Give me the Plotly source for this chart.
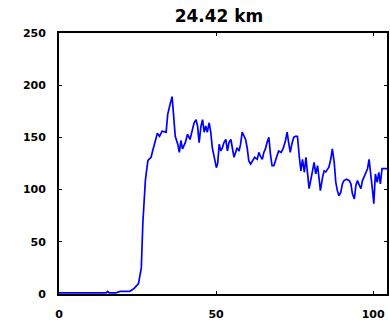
import plotly.graph_objects as go

title_text = "24.42 km"
x_vals = [0, 2, 4, 6, 8, 10, 12, 14, 15, 15.5, 16, 17, 18, 19.5, 21, 22.5, 23.3, 24, 25.3, 26.2, 26.7, 27.5,
          28.3, 29.3, 29.8, 30.7, 31.3, 32.0, 32.8, 34.1, 34.6, 35.3, 36.0, 36.4, 37.0, 37.8, 38.3,
          38.8, 39.3, 40.2, 40.9, 41.7, 42.3, 43.0, 43.6, 44.1, 44.6, 45.2, 45.7, 46.2, 46.7,
          47.2, 47.8, 48.3, 48.8, 49.4, 50.1, 50.5, 51.0, 51.5, 52.0, 52.5, 53.1, 53.6, 54.1,
          54.7, 55.2, 55.7, 56.2, 56.7, 57.3, 57.8, 58.3, 58.9, 59.4, 59.9, 60.4, 61.0, 61.7,
          62.3, 63.1, 63.6, 64.1, 64.7, 65.2, 65.7, 66.2, 66.8, 67.3, 67.8, 68.4, 69.2, 69.9,
          70.7, 71.3, 72.1, 72.6, 73.1, 73.6, 74.1, 74.7, 75.2, 75.9, 76.5, 77.0, 77.5, 78.1,
          78.6, 79.1, 79.6, 80.2, 80.7, 81.2, 81.7, 82.3, 82.8, 83.2, 83.9, 84.4, 84.9, 85.4,
          85.9, 86.5, 87.0, 87.6, 88.1, 88.6, 89.1, 89.7, 90.2, 90.7, 91.5, 92.4, 92.9, 93.4,
          94.0, 94.5, 95.0, 95.6, 96.1, 96.6, 97.2, 97.7, 98.2, 98.7, 99.3, 99.8, 100.2, 100.7,
          101.3, 101.8, 102.3, 102.8, 103.5, 104.4]
y_vals = [1, 1, 1, 1, 1, 1, 1, 1, 1, 2.5, 1, 1, 1, 2.5, 2.5, 2.5, 4, 5.7, 10, 25, 69, 109,
          128, 131, 137, 148, 154, 151, 156, 155, 172, 181, 189, 174, 151, 143.5, 135.6,
          147, 139, 145, 153, 148, 156, 164, 167, 161, 145, 161, 167, 155, 161,
          155, 164, 155, 140, 131, 121, 125, 143.5, 137, 140, 145, 148, 137, 145,
          148, 140, 131, 135.6, 140, 137, 143.5, 155, 151, 148, 140, 127.7, 124.5, 127.7,
          131, 129, 135.6, 132, 129, 135.6, 139, 145, 150, 134, 123, 123, 131, 137,
          135.6, 139, 147, 155, 145, 135.6, 143.5, 150, 151, 151, 131, 118, 129, 116.6,
          131, 112, 101, 110, 120, 126, 115, 123, 110, 99, 112, 118, 117, 120,
          121.5, 129, 139, 126, 107, 99, 94, 97.6, 105.5, 108.6, 110, 108.6, 105.5, 96,
          91, 104, 108.6, 104, 101, 108.6, 113, 118, 120, 129, 115, 99, 86.5, 115,
          107, 116.6, 105.5, 120, 120, 120]
x_ticks = [0, 50, 100]
y_ticks = [0, 50, 100, 150, 200, 250]

fig = go.Figure()
fig.add_trace(go.Scatter(x=x_vals, y=y_vals, mode="lines",
                         line=dict(color="#0000FF", width=1.7),
                         showlegend=False, hoverinfo="skip"))

tick_font = dict(family="DejaVu Sans", size=11, color="black", weight="bold")
axis_common = dict(showgrid=False, zeroline=False, showline=True, linecolor="black",
                   linewidth=1.8, mirror="ticks", ticks="inside", ticklen=3, tickwidth=1,
                   tickcolor="black", tickfont=tick_font)

fig.update_layout(
    width=390, height=322,
    margin=dict(l=59, r=1, t=33, b=26),
    paper_bgcolor="white", plot_bgcolor="white",
    title=dict(text=title_text, x=0.5615, xanchor="center", y=0.95, yanchor="middle",
               font=dict(family="DejaVu Sans", size=17, color="black", weight="bold")),
    xaxis=dict(range=[0, 104.4], tickvals=x_ticks, ticklabelstandoff=9, **axis_common),
    yaxis=dict(range=[0, 250], tickvals=y_ticks, ticklabelstandoff=9, **axis_common),
)

fig.write_html("out.html")
